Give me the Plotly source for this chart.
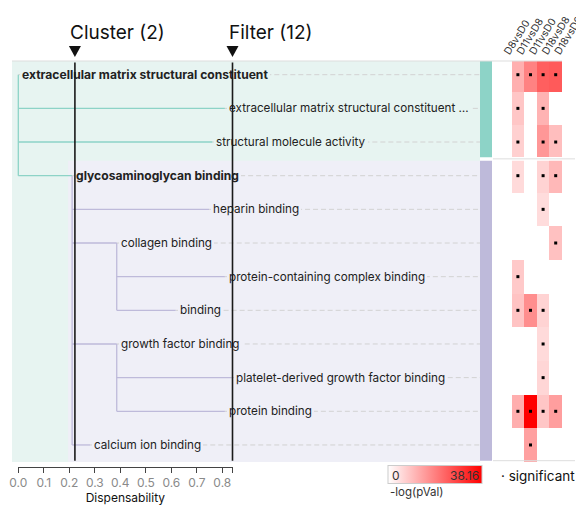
import plotly.graph_objects as go

# ---------------- data ----------------
terms = [
    "extracellular matrix structural constituent",
    "extracellular matrix structural constituent \u2026",
    "structural molecule activity",
    "glycosaminoglycan binding",
    "heparin binding",
    "collagen binding",
    "protein-containing complex binding",
    "binding",
    "growth factor binding",
    "platelet-derived growth factor binding",
    "protein binding",
    "calcium ion binding",
]
dispensability = [0.0, 0.81, 0.761, 0.211, 0.748, 0.386, 0.81, 0.617, 0.386, 0.837, 0.81, 0.282]
parent = [None, 0, 0, 0, 3, 3, 5, 5, 3, 8, 8, 3]
cluster_group = [0, 0, 0, 1, 1, 1, 1, 1, 1, 1, 1, 1]
representative = [True, False, False, True, False, False, False, False, False, False, False, False]

contrasts = ["D8vsD0", "D11vsD8", "D11vsD0", "D18vsD8", "D18vsD0"]
neglog_pval = [
    [None, 12.0, 18.7, 23.9, 24.7],
    [None, 8.5, None, 11.4, None],
    [None, 7.0, None, 15.6, 9.7],
    [None, 5.5, None, 6.6, 10.6],
    [None, None, None, 5.2, None],
    [None, None, None, None, 9.3],
    [None, 8.1, None, None, None],
    [None, 9.0, 16.9, 6.6, None],
    [None, None, None, 5.5, None],
    [None, None, None, 6.1, None],
    [None, 12.1, 38.16, 8.5, 14.5],
    [None, None, 14.2, None, None],
]
significant = [[v is not None for v in row] for row in neglog_pval]
pval_max = 38.16

cluster_threshold = 0.222
filter_threshold = 0.84
disp_ticks = [0.0, 0.1, 0.2, 0.3, 0.4, 0.5, 0.6, 0.7, 0.8]

group_colors = ["#8DD3C7", "#BEBADA"]
panel_colors = ["#E7F4F1", "#EFEFF7"]

# ---------------- layout geometry (window pixels) ----------------
PAGE_OFF = 8                      # page body margin
W, H = 584 - PAGE_OFF, 506 - PAGE_OFF
X0PX, PXPU = 18.3, 255.0          # dispensability 0 at px 18.3, 255 px per unit
TREE_L, TREE_R = 12.0, 480.0
ROW0, ROWH = 74.7, 33.66
TOP, BOT = 61.0, 462.0
HM_L, HM_R = 499.0, 562.0
FONT = "Inter"
LABEL_SIZE = 11.7
BOLD_SIZE = 12.1

def px(x):
    return (x - PAGE_OFF) / W

def py(y):
    return 1 - (y - PAGE_OFF) / H

def xdata(p):
    return (p - X0PX) / PXPU

def ydata(p):
    return (p - ROW0) / ROWH

n = len(terms)
xr = [xdata(TREE_L), xdata(TREE_R)]
yr = [ydata(BOT), ydata(TOP)]

fig = go.Figure()

# dashed guide lines from each term to the right edge
dx, dy = [], []
for i in range(n):
    dx += [dispensability[i], xr[1], None]
    dy += [i, i, None]
fig.add_trace(go.Scatter(x=dx, y=dy, mode="lines", line=dict(color="#d2d2d2", width=1, dash="5px,3px"),
                         hoverinfo="skip", showlegend=False))

# tree edges, coloured by parent's group
for g in range(len(group_colors)):
    tx, ty = [], []
    for p_idx in range(n):
        kids = [k for k in range(n) if parent[k] == p_idx]
        if not kids or cluster_group[p_idx] != g:
            continue
        px_ = dispensability[p_idx]
        tx += [px_, px_, None]
        ty += [p_idx, max(kids), None]
        for k in kids:
            tx += [px_, dispensability[k], None]
            ty += [k, k, None]
    fig.add_trace(go.Scatter(x=tx, y=ty, mode="lines", line=dict(color=group_colors[g], width=1.3),
                             hoverinfo="skip", showlegend=False))

# heatmap
fig.add_trace(go.Heatmap(
    z=neglog_pval, x=contrasts, y=list(range(n)), xaxis="x3", yaxis="y",
    colorscale=[[0, "#ffffff"], [1, "#ff0000"]], zmin=0, zmax=pval_max,
    hoverongaps=False,
    colorbar=dict(orientation="h", x=px(435), xanchor="center", y=py(475), yanchor="middle",
                  len=94, lenmode="pixels", thickness=18, thicknessmode="pixels",
                  showticklabels=False, ticks="", outlinecolor="#cccccc", outlinewidth=1,
                  xpad=0, ypad=0),
))
sx, sy = [], []
for i in range(n):
    for j, c in enumerate(contrasts):
        if significant[i][j]:
            sx.append(c)
            sy.append(i)
fig.add_trace(go.Scatter(x=sx, y=sy, xaxis="x3", yaxis="y", mode="markers",
                         marker=dict(symbol="square", size=3, color="black"),
                         hoverinfo="skip", showlegend=False))

# dummy trace for dispensability axis
fig.add_trace(go.Scatter(x=[0], y=[0], xaxis="x2", yaxis="y", mode="markers",
                         marker=dict(opacity=0), hoverinfo="skip", showlegend=False))

shapes = []
# group panels and side bars
for g in range(len(group_colors)):
    rows = [i for i in range(n) if cluster_group[i] == g]
    rep = [i for i in rows if representative[i]][0]
    left = TREE_L if g == 0 else X0PX + PXPU * dispensability[rep] - 4
    top_px = TOP if g == 0 else ROW0 + ROWH * (min(rows) - 0.5) + 2
    bar_top = top_px
    bar_bot = ROW0 + ROWH * (max(rows) + 0.5) - 1.5 if g == 0 else 460.7
    shapes.append(dict(type="rect", xref="paper", yref="paper", x0=px(left), x1=px(TREE_R),
                       y0=py(BOT), y1=py(top_px), fillcolor=panel_colors[g], line=dict(width=0), layer="below"))
    shapes.append(dict(type="rect", xref="paper", yref="paper", x0=px(480), x1=px(492),
                       y0=py(bar_bot), y1=py(bar_top), fillcolor=group_colors[g], line=dict(width=0), layer="below"))

# top border
shapes.append(dict(type="line", xref="paper", yref="paper", x0=px(12), x1=px(HM_R), y0=py(TOP), y1=py(TOP),
                   line=dict(color="#dddddd", width=1)))
# group separator in heatmap area
sep = ROW0 + ROWH * 2.5
shapes.append(dict(type="rect", xref="paper", yref="paper", x0=px(493), x1=px(575), y0=py(sep + 1.8),
                   y1=py(sep - 1.8), fillcolor="white", line=dict(width=0), layer="above"))
shapes.append(dict(type="line", xref="paper", yref="paper", x0=px(493), x1=px(575), y0=py(sep), y1=py(sep),
                   line=dict(color="#dddddd", width=1), layer="above"))
shapes.append(dict(type="line", xref="paper", yref="paper", x0=px(493), x1=px(575), y0=py(460.7), y1=py(460.7),
                   line=dict(color="#dddddd", width=1), layer="above"))
# threshold triangles
for thr in (cluster_threshold, filter_threshold):
    hw = 6 / PXPU
    shapes.append(dict(type="path", xref="x", yref="paper",
                       path=f"M {thr-hw},{py(46)} L {thr+hw},{py(46)} L {thr},{py(57)} Z",
                       fillcolor="#111111", line=dict(width=0)))

annotations = []
for i in range(n):
    annotations.append(dict(
        x=dispensability[i], y=i, xref="x", yref="y", xanchor="left", yanchor="middle",
        xshift=2, text=f"<b>{terms[i]}</b>" if representative[i] else terms[i],
        showarrow=False, bgcolor=panel_colors[cluster_group[i]], borderpad=2, borderwidth=0,
        font=dict(family=FONT, size=BOLD_SIZE if representative[i] else LABEL_SIZE, color="#222222")))

# threshold lines (drawn as arrow annotations so they sit above label boxes)
for thr in (cluster_threshold, filter_threshold):
    annotations.append(dict(
        x=thr, y=ydata(460.7), xref="x", yref="y", ax=thr, ay=ydata(TOP), axref="x", ayref="y",
        text="", showarrow=True, arrowhead=0, arrowwidth=1.6, arrowcolor="#1a1a1a",
        standoff=0, startstandoff=0, font=dict(size=1)))

n_clusters = len(set(cluster_group))
annotations.append(dict(x=cluster_threshold, y=py(33), xref="x", yref="paper", xanchor="left",
                        yanchor="middle", xshift=-7, text=f"Cluster ({n_clusters})", showarrow=False,
                        font=dict(family=FONT, size=19, color="#111111")))
annotations.append(dict(x=filter_threshold, y=py(33), xref="x", yref="paper", xanchor="left",
                        yanchor="middle", xshift=-6, text=f"Filter ({n})", showarrow=False,
                        font=dict(family=FONT, size=19, color="#111111")))

# colorbar texts and legend
annotations.append(dict(x=px(390), y=py(475), xref="paper", yref="paper", xanchor="left", yanchor="middle",
                        text="0", showarrow=False, font=dict(family=FONT, size=12, color="#333333")))
annotations.append(dict(x=px(481), y=py(475), xref="paper", yref="paper", xanchor="right", yanchor="middle",
                        text=f"{pval_max:.2f}", showarrow=False, font=dict(family=FONT, size=12, color="#333333")))
annotations.append(dict(x=px(388), y=py(492), xref="paper", yref="paper", xanchor="left", yanchor="middle",
                        text="-log(pVal)", showarrow=False, font=dict(family=FONT, size=11.5, color="#333333")))
annotations.append(dict(x=px(499), y=py(476), xref="paper", yref="paper", xanchor="left", yanchor="middle",
                        text="\u00b7 significant", showarrow=False, font=dict(family=FONT, size=13.5, color="#111111")))

fig.update_layout(
    width=W, height=H, margin=dict(l=0, r=0, t=0, b=0, autoexpand=False),
    paper_bgcolor="white", plot_bgcolor="rgba(0,0,0,0)", showlegend=False,
    xaxis=dict(domain=[px(TREE_L), px(TREE_R)], range=xr, visible=False, fixedrange=True, automargin=False),
    yaxis=dict(domain=[py(BOT), py(TOP)], range=yr, visible=False, fixedrange=True, automargin=False),
    xaxis2=dict(domain=[px(X0PX), px(X0PX + PXPU * filter_threshold)], range=[0, filter_threshold],
                anchor="free", position=py(466.5), showline=True, linecolor="#444444", linewidth=1,
                ticks="outside", ticklen=5, tickcolor="#444444", tickwidth=1,
                tickmode="array", tickvals=disp_ticks + [filter_threshold],
                ticktext=[f"{t:.1f}" for t in disp_ticks] + [""],
                tickfont=dict(family=FONT, size=12, color="#8a8a8a"),
                title=dict(text="Dispensability", font=dict(family=FONT, size=12, color="#111111"), standoff=2),
                showgrid=False, zeroline=False, fixedrange=True, automargin=False),
    xaxis3=dict(domain=[px(HM_L), px(HM_R)], anchor="y", side="top", tickangle=-58,
                tickmode="array", tickvals=contrasts,
                tickfont=dict(family=FONT, size=10.2, color="#333333"), ticks="", showgrid=False,
                zeroline=False, fixedrange=True, automargin=False),
    shapes=shapes, annotations=annotations,
)

fig.write_html("out.html", config={"displayModeBar": False})
